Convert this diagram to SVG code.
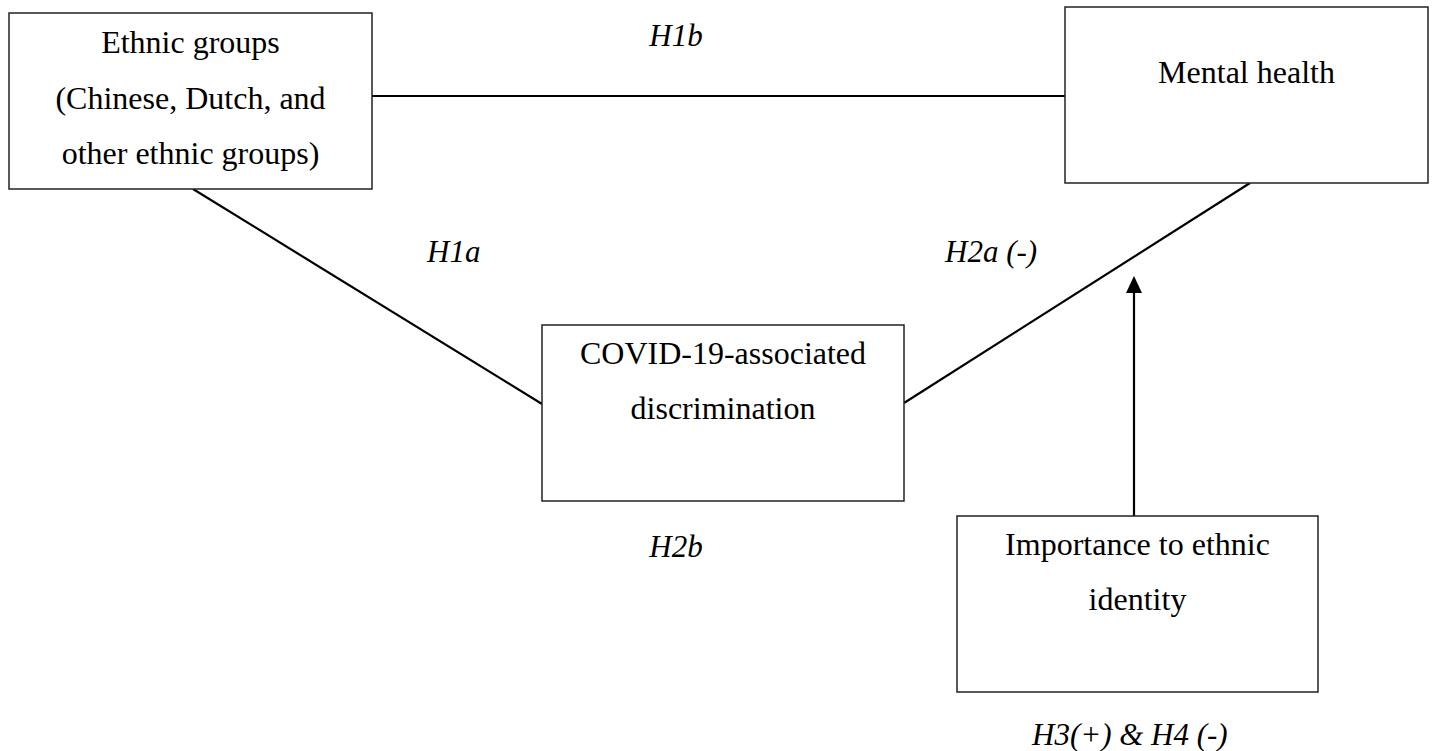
<svg xmlns="http://www.w3.org/2000/svg" width="1434" height="751" viewBox="0 0 1434 751">
<style>
.box{fill:#fff;stroke:#222;stroke-width:1.5}
.t{font-family:"Liberation Serif","Times New Roman",serif;font-size:32px;fill:#000;text-anchor:middle}
.h{font-family:"Liberation Serif","Times New Roman",serif;font-size:31px;font-style:italic;fill:#000}
.c{stroke:#000;stroke-width:2.2;fill:none}
</style>
<rect width="1434" height="751" fill="#fff"/>
<g id="connectors">
<line class="c" x1="372" y1="96" x2="1065" y2="96"/>
<line class="c" x1="193" y1="189" x2="542" y2="404"/>
<line class="c" x1="904" y1="403" x2="1250" y2="183"/>
<line class="c" x1="1134" y1="516" x2="1134" y2="290"/>
<polygon points="1134,276 1126,293 1142,293" fill="#000"/>
</g>
<g id="labels">
<text class="h" x="676" y="46" text-anchor="middle">H1b</text>
<text class="h" x="427" y="262">H1a</text>
<text class="h" x="945" y="262">H2a (-)</text>
<text class="h" x="676" y="557" text-anchor="middle">H2b</text>
<text class="h" x="1032" y="745">H3(+) &amp; H4 (-)</text>
</g>
<g id="ethnic">
<rect class="box" x="9" y="13" width="363" height="176"/>
<text class="t" x="190.5" y="53">Ethnic groups</text>
<text class="t" x="190.5" y="109">(Chinese, Dutch, and</text>
<text class="t" x="190.5" y="164">other ethnic groups)</text>
</g>
<g id="mental">
<rect class="box" x="1065" y="7" width="363" height="176"/>
<text class="t" x="1246.5" y="83">Mental health</text>
</g>
<g id="covid">
<rect class="box" x="542" y="325" width="362" height="176"/>
<text class="t" x="723" y="364">COVID-19-associated</text>
<text class="t" x="723" y="419">discrimination</text>
</g>
<g id="importance">
<rect class="box" x="957" y="516" width="361" height="176"/>
<text class="t" x="1137.5" y="555">Importance to ethnic</text>
<text class="t" x="1137.5" y="610">identity</text>
</g>
</svg>
